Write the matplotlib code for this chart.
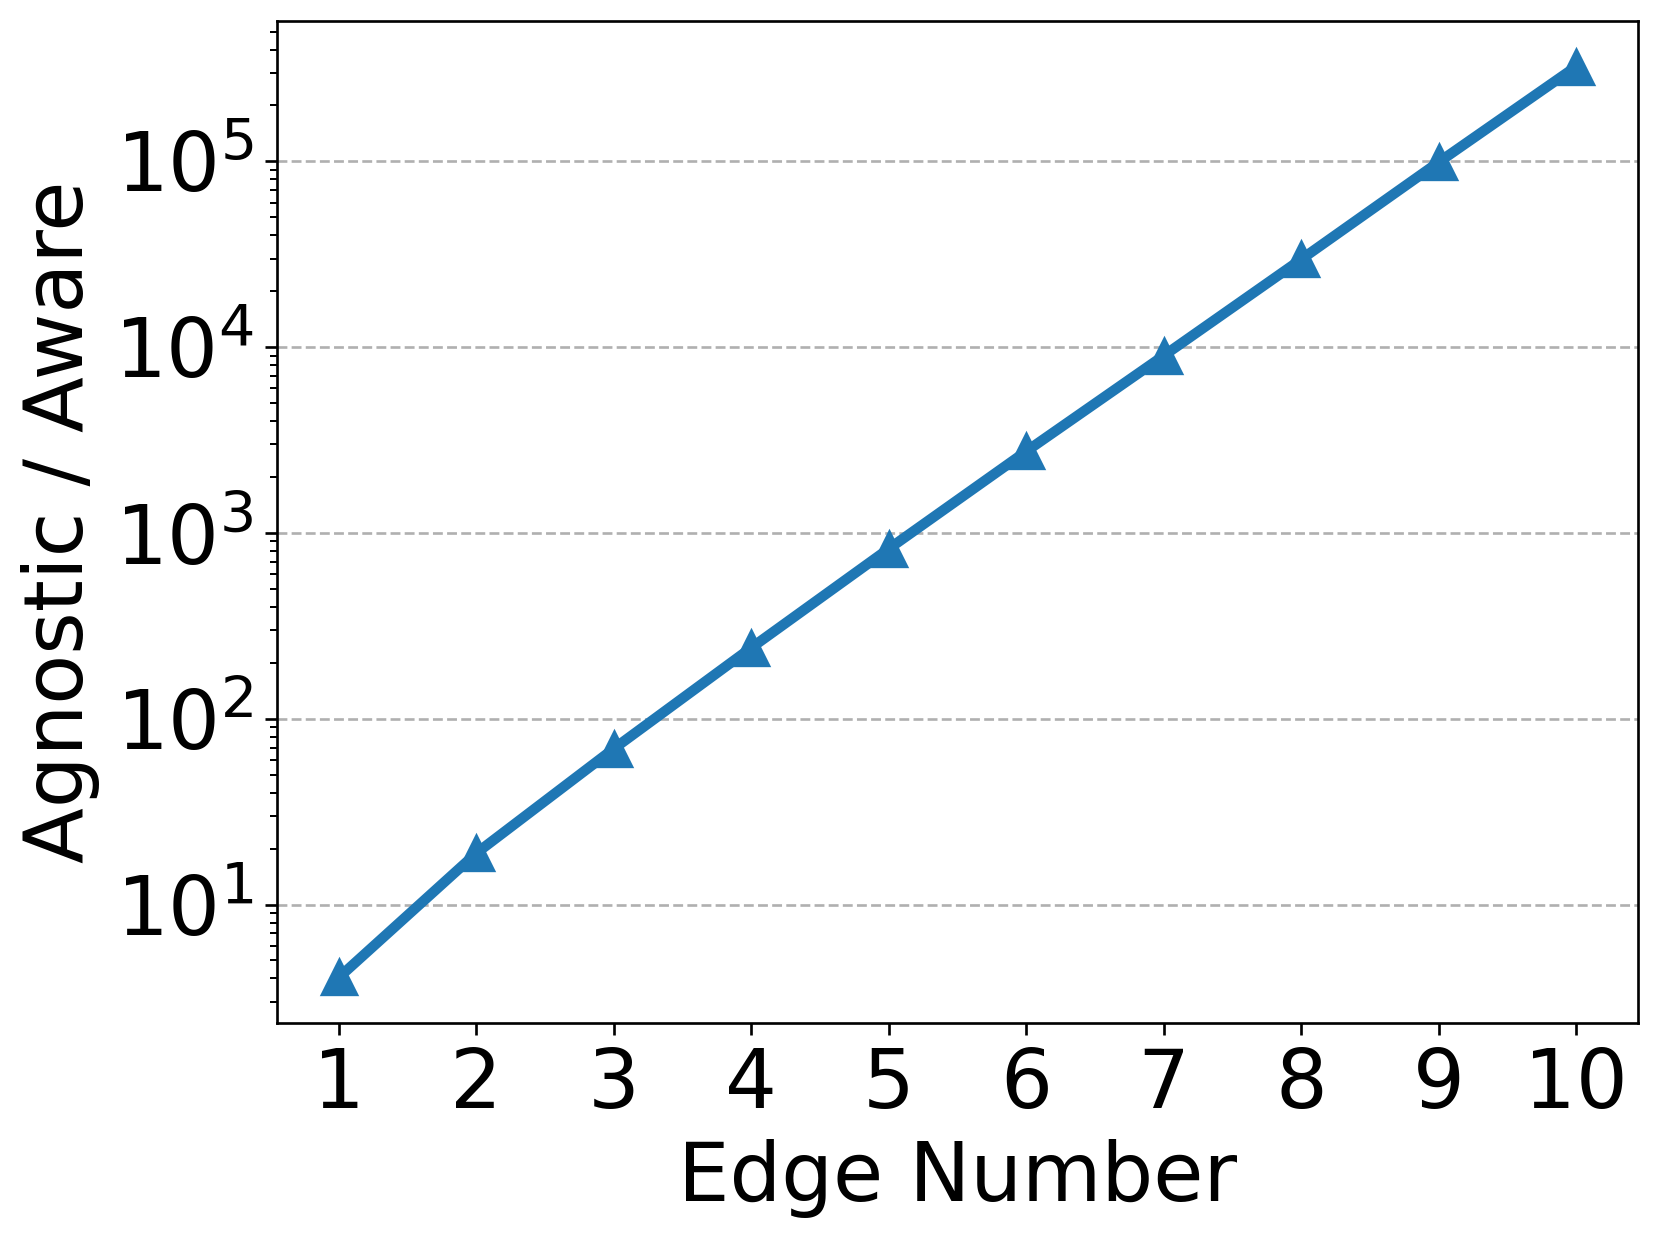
import matplotlib
matplotlib.use("Agg")
import matplotlib.pyplot as plt

edge_number = [1, 2, 3, 4, 5, 6, 7, 8, 9, 10]
ratio = [4.05, 18.9, 69, 241, 822, 2750, 9000, 29700, 99000, 324000]
x_ticks = [1, 2, 3, 4, 5, 6, 7, 8, 9, 10]

dpi = 240
fig = plt.figure(figsize=(1659 / dpi, 1234 / dpi), dpi=dpi)
ax = fig.add_axes([277 / 1659, 1 - 1023 / 1234, (1638 - 277) / 1659, (1023 - 21) / 1234])

ax.plot(edge_number, ratio, marker='^', color='#1f77b4', linewidth=3.1, markersize=10.2)
ax.set_yscale('log')
ax.set_xticks(x_ticks)
ax.tick_params(axis='both', labelsize=24.5)
ax.set_xlabel('Edge Number', fontsize=24.5)
ax.set_ylabel('Agnostic / Aware', fontsize=24.5)
ax.yaxis.grid(True, which='major', linestyle='--', color='#b0b0b0')

fig.savefig('out.png', dpi=dpi)
